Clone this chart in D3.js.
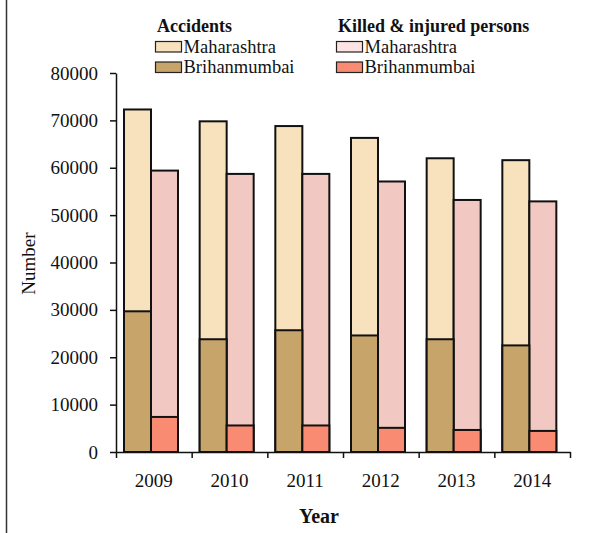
<!DOCTYPE html>
<html>
<head>
<meta charset="utf-8">
<script src="https://cdn.jsdelivr.net/npm/d3@7"></script>
<style>
  body { margin: 0; background: #fff; }
  svg { display: block; font-family: "Liberation Serif", "Times New Roman", serif; }
</style>
</head>
<body>
<div id="chart"></div>
<script>
// 데이터
const years = ['2009', '2010', '2011', '2012', '2013', '2014'];
const accidentsMaharashtra = [72300, 69800, 68800, 66300, 62000, 61600];
const accidentsMumbai = [29700, 23800, 25700, 24600, 23800, 22500];
const killedMaharashtra = [59400, 58700, 58700, 57100, 53200, 52900];
const killedMumbai = [7400, 5600, 5600, 5100, 4650, 4450];
const yTicks = [0, 10000, 20000, 30000, 40000, 50000, 60000, 70000, 80000];

const width = 589, height = 533;
const margin = { left: 116, right: 19, top: 73, bottom: 81 };

const svg = d3.select('#chart').append('svg')
    .attr('width', width)
    .attr('height', height);

// 왼쪽 테두리 선
svg.append('line')
    .attr('x1', 6.5).attr('x2', 6.5)
    .attr('y1', 0).attr('y2', height)
    .attr('stroke', '#333')
    .attr('stroke-width', 1.5);

// 스케일
const x = d3.scaleBand()
    .domain(years)
    .range([margin.left, width - margin.right]);

const xEdge = d3.scaleLinear()
    .domain([0, years.length])
    .range([margin.left, width - margin.right]);

const inner = d3.scaleBand()
    .domain(['acc', 'kill'])
    .range([8, 62]);

const y = d3.scaleLinear()
    .domain([0, 80000])
    .range([height - margin.bottom, margin.top]);

// 막대 그리기 (뭄바이 막대를 마하라슈트라 막대 위에 겹쳐 그림)
const groups = [
    { key: 'acc', values: accidentsMaharashtra, fill: '#F8E2BE' },
    { key: 'kill', values: killedMaharashtra, fill: '#F2C9C2' },
    { key: 'acc', values: accidentsMumbai, fill: '#C6A46A' },
    { key: 'kill', values: killedMumbai, fill: '#F98B73' }
];

groups.forEach(gr => {
    svg.append('g')
        .selectAll('rect')
        .data(gr.values)
        .enter()
        .append('rect')
        .attr('x', (d, i) => x(years[i]) + inner(gr.key))
        .attr('y', d => y(d))
        .attr('width', inner.bandwidth())
        .attr('height', d => y(0) - y(d))
        .attr('fill', gr.fill)
        .attr('stroke', '#111')
        .attr('stroke-width', 2);
});

// Y축
const yAxis = svg.append('g')
    .attr('transform', `translate(${margin.left},0)`)
    .call(d3.axisLeft(y).tickValues(yTicks).tickSize(6).tickSizeOuter(0).tickPadding(12).tickFormat(d3.format('d')));

// X축 (경계 눈금)
const xAxis = svg.append('g')
    .attr('transform', `translate(0,${y(0)})`)
    .call(d3.axisBottom(xEdge).tickValues(d3.range(years.length + 1)).tickSize(6).tickSizeOuter(0).tickFormat(''));

// X축 라벨
const xLabels = svg.append('g')
    .attr('transform', `translate(0,${y(0)})`)
    .call(d3.axisBottom(x).tickSize(0).tickPadding(22));
xLabels.select('.domain').remove();

[yAxis, xAxis, xLabels].forEach(a => {
    a.selectAll('path, line').attr('stroke', '#111').attr('stroke-width', 1.5);
    a.selectAll('text')
        .attr('fill', '#111')
        .style('font-family', '"Liberation Serif", serif')
        .style('font-size', '19px');
});

// 축 제목
svg.append('text')
    .attr('transform', 'translate(35,263.5) rotate(-90)')
    .attr('text-anchor', 'middle')
    .attr('fill', '#111')
    .style('font-size', '19px')
    .text('Number');

svg.append('text')
    .attr('x', 319)
    .attr('y', 523)
    .attr('text-anchor', 'middle')
    .attr('fill', '#111')
    .style('font-size', '20px')
    .style('font-weight', 'bold')
    .text('Year');

// 범례
const legendCols = [
    { x: 155, title: 'Accidents', items: [['Maharashtra', '#F8E1BD'], ['Brihanmumbai', '#C6A46A']] },
    { x: 336, title: 'Killed & injured persons', items: [['Maharashtra', '#FDE4E2'], ['Brihanmumbai', '#FA8B73']] }
];

legendCols.forEach(col => {
    const lg = svg.append('g').attr('transform', `translate(${col.x},0)`);
    lg.append('text')
        .attr('x', 2)
        .attr('y', 31.5)
        .attr('fill', '#111')
        .style('font-size', '18px')
        .style('font-weight', 'bold')
        .text(col.title);
    col.items.forEach((it, i) => {
        lg.append('rect')
            .attr('x', 0.5)
            .attr('y', 41.5 + i * 20.5)
            .attr('width', 26)
            .attr('height', 10.5)
            .attr('fill', it[1])
            .attr('stroke', '#222')
            .attr('stroke-width', 1.2);
        lg.append('text')
            .attr('x', 28.5)
            .attr('y', 52.5 + i * 20.5)
            .attr('fill', '#111')
            .style('font-size', '18.5px')
            .text(it[0]);
    });
});
</script>
</body>
</html>
